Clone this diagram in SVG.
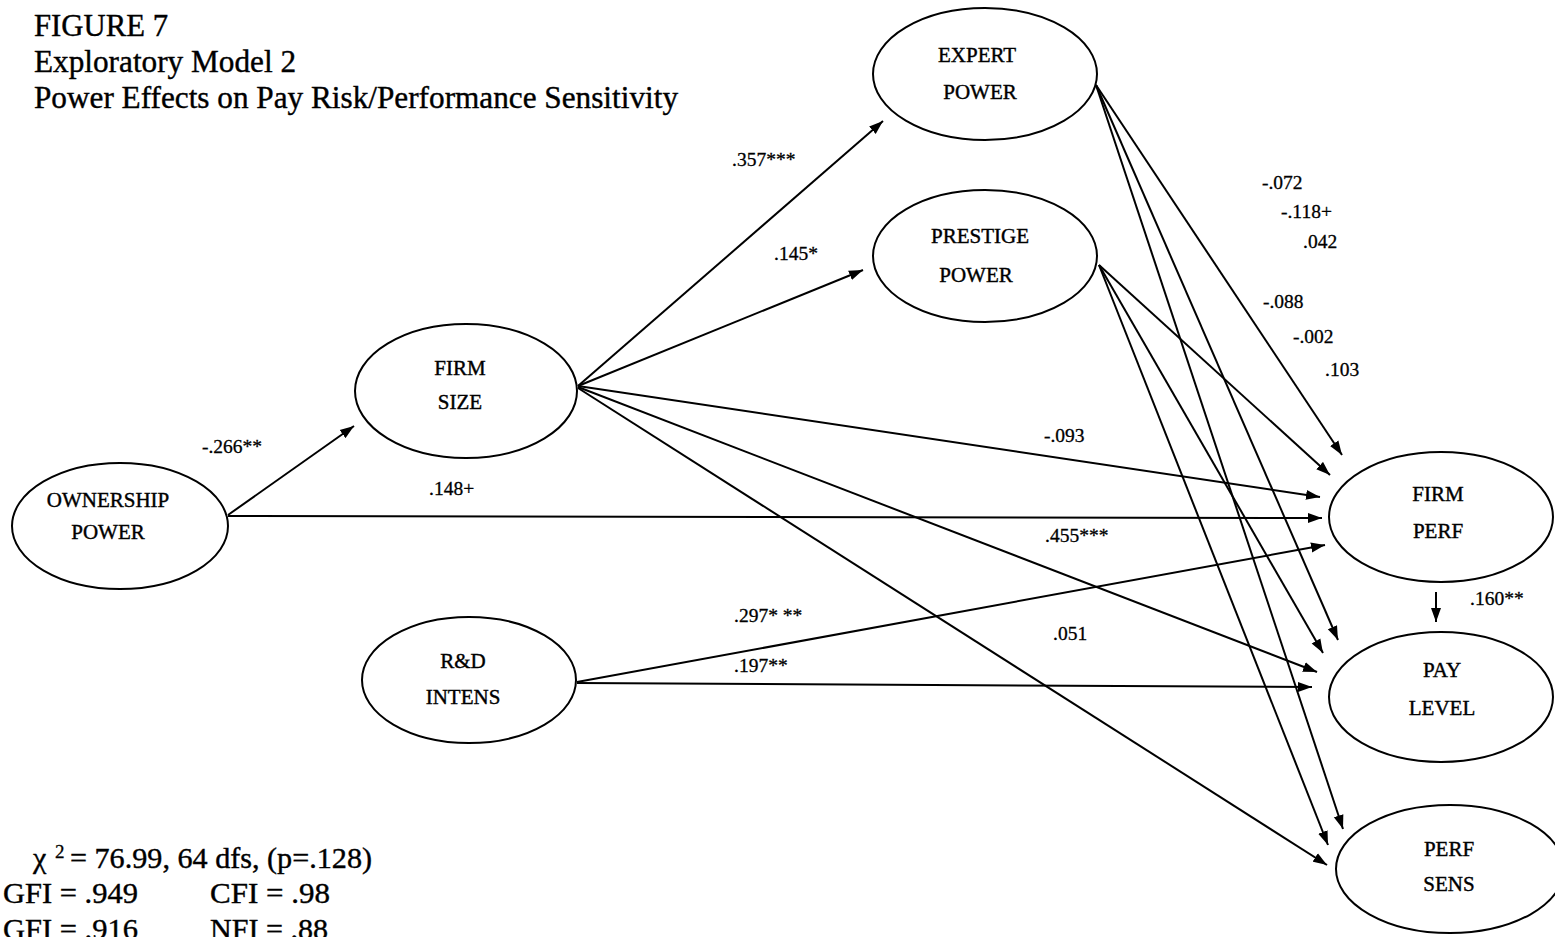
<svg xmlns="http://www.w3.org/2000/svg" width="1555" height="937" viewBox="0 0 1555 937">
<style>
  .node ellipse { fill: #fff; stroke: #000; stroke-width: 2; }
  .node text { font-family: "Liberation Serif", "Times New Roman", serif; font-size: 21px; text-anchor: middle; fill: #000; stroke: #000; stroke-width: 0.4; }
  .edges line { stroke: #000; stroke-width: 2; marker-end: url(#ah); }
  .lbl { font-family: "Liberation Serif", "Times New Roman", serif; font-size: 19.5px; fill: #000; stroke: #000; stroke-width: 0.3; }
  .title { font-family: "Liberation Serif", "Times New Roman", serif; font-size: 32px; fill: #000; stroke: #000; stroke-width: 0.4; }
  .stat { font-family: "Liberation Serif", "Times New Roman", serif; font-size: 30px; fill: #000; stroke: #000; stroke-width: 0.4; }
  .sup { font-family: "Liberation Serif", "Times New Roman", serif; font-size: 19px; fill: #000; stroke: #000; stroke-width: 0.3; }
</style>
<defs>
  <marker id="ah" markerWidth="15" markerHeight="11" refX="14" refY="5.5" orient="auto" markerUnits="userSpaceOnUse">
    <path d="M0,0.5 L14,5.5 L0,10.5 z" fill="#000"/>
  </marker>
</defs>
<rect width="1555" height="937" fill="#fff"/>

<g id="title">
  <text class="title" x="34" y="36" textLength="134" lengthAdjust="spacingAndGlyphs">FIGURE 7</text>
  <text class="title" x="34" y="72" textLength="262" lengthAdjust="spacingAndGlyphs">Exploratory Model 2</text>
  <text class="title" x="34" y="108" textLength="644" lengthAdjust="spacingAndGlyphs">Power Effects on Pay Risk/Performance Sensitivity</text>
</g>

<g class="edges" id="connectors">
  <line x1="228" y1="515" x2="354" y2="426"/>
  <line x1="228" y1="516" x2="1322" y2="518"/>
  <line x1="578" y1="386" x2="883" y2="121"/>
  <line x1="578" y1="386" x2="863" y2="270"/>
  <line x1="578" y1="386" x2="1320" y2="497"/>
  <line x1="578" y1="387" x2="1317" y2="672"/>
  <line x1="578" y1="388" x2="1327" y2="865"/>
  <line x1="577" y1="682" x2="1325" y2="545"/>
  <line x1="577" y1="683" x2="1312" y2="687"/>
  <line x1="1436" y1="592" x2="1436" y2="622"/>
  <line x1="1096" y1="85" x2="1342" y2="455"/>
  <line x1="1096" y1="85" x2="1338" y2="640"/>
  <line x1="1096" y1="85" x2="1343" y2="829"/>
  <line x1="1099" y1="265" x2="1330" y2="475"/>
  <line x1="1099" y1="265" x2="1323" y2="653"/>
  <line x1="1099" y1="265" x2="1328" y2="845"/>
</g>

<g id="edge-labels">
  <text class="lbl" x="202" y="453">-.266**</text>
  <text class="lbl" x="429" y="495">.148+</text>
  <text class="lbl" x="732" y="166">.357***</text>
  <text class="lbl" x="774" y="260">.145*</text>
  <text class="lbl" x="1044" y="442">-.093</text>
  <text class="lbl" x="1045" y="542">.455***</text>
  <text class="lbl" x="734" y="622">.297* **</text>
  <text class="lbl" x="1053" y="640">.051</text>
  <text class="lbl" x="734" y="672">.197**</text>
  <text class="lbl" x="1470" y="605">.160**</text>
  <text class="lbl" x="1262" y="189">-.072</text>
  <text class="lbl" x="1281" y="218">-.118+</text>
  <text class="lbl" x="1303" y="248">.042</text>
  <text class="lbl" x="1263" y="308">-.088</text>
  <text class="lbl" x="1293" y="343">-.002</text>
  <text class="lbl" x="1325" y="376">.103</text>
</g>

<g class="node" id="expert-power">
  <ellipse cx="985" cy="74" rx="112" ry="66"/>
  <text x="977" y="62">EXPERT</text>
  <text x="980" y="99">POWER</text>
</g>
<g class="node" id="prestige-power">
  <ellipse cx="985" cy="256" rx="112" ry="66"/>
  <text x="980" y="243">PRESTIGE</text>
  <text x="976" y="282">POWER</text>
</g>
<g class="node" id="firm-size">
  <ellipse cx="466" cy="391" rx="111" ry="67"/>
  <text x="460" y="375">FIRM</text>
  <text x="460" y="409">SIZE</text>
</g>
<g class="node" id="ownership-power">
  <ellipse cx="120" cy="526" rx="108" ry="63"/>
  <text x="108" y="507">OWNERSHIP</text>
  <text x="108" y="539">POWER</text>
</g>
<g class="node" id="rd-intens">
  <ellipse cx="469" cy="680" rx="107" ry="63"/>
  <text x="463" y="668">R&amp;D</text>
  <text x="463" y="704">INTENS</text>
</g>
<g class="node" id="firm-perf">
  <ellipse cx="1441" cy="517" rx="112" ry="65"/>
  <text x="1438" y="501">FIRM</text>
  <text x="1438" y="538">PERF</text>
</g>
<g class="node" id="pay-level">
  <ellipse cx="1441" cy="697" rx="112" ry="65"/>
  <text x="1442" y="677">PAY</text>
  <text x="1442" y="715">LEVEL</text>
</g>
<g class="node" id="perf-sens">
  <ellipse cx="1450" cy="869" rx="114" ry="64"/>
  <text x="1449" y="856">PERF</text>
  <text x="1449" y="891">SENS</text>
</g>

<g id="fit-stats">
  <text class="stat" x="33" y="868">χ</text>
  <text class="sup" x="55" y="858">2</text>
  <text class="stat" x="70" y="868" textLength="302" lengthAdjust="spacingAndGlyphs">= 76.99, 64 dfs, (p=.128)</text>
  <text class="stat" x="3" y="903" textLength="135" lengthAdjust="spacingAndGlyphs">GFI = .949</text>
  <text class="stat" x="210" y="903" textLength="120" lengthAdjust="spacingAndGlyphs">CFI = .98</text>
  <text class="stat" x="3" y="939" textLength="135" lengthAdjust="spacingAndGlyphs">GFI = .916</text>
  <text class="stat" x="210" y="939" textLength="118" lengthAdjust="spacingAndGlyphs">NFI = .88</text>
</g>
</svg>
